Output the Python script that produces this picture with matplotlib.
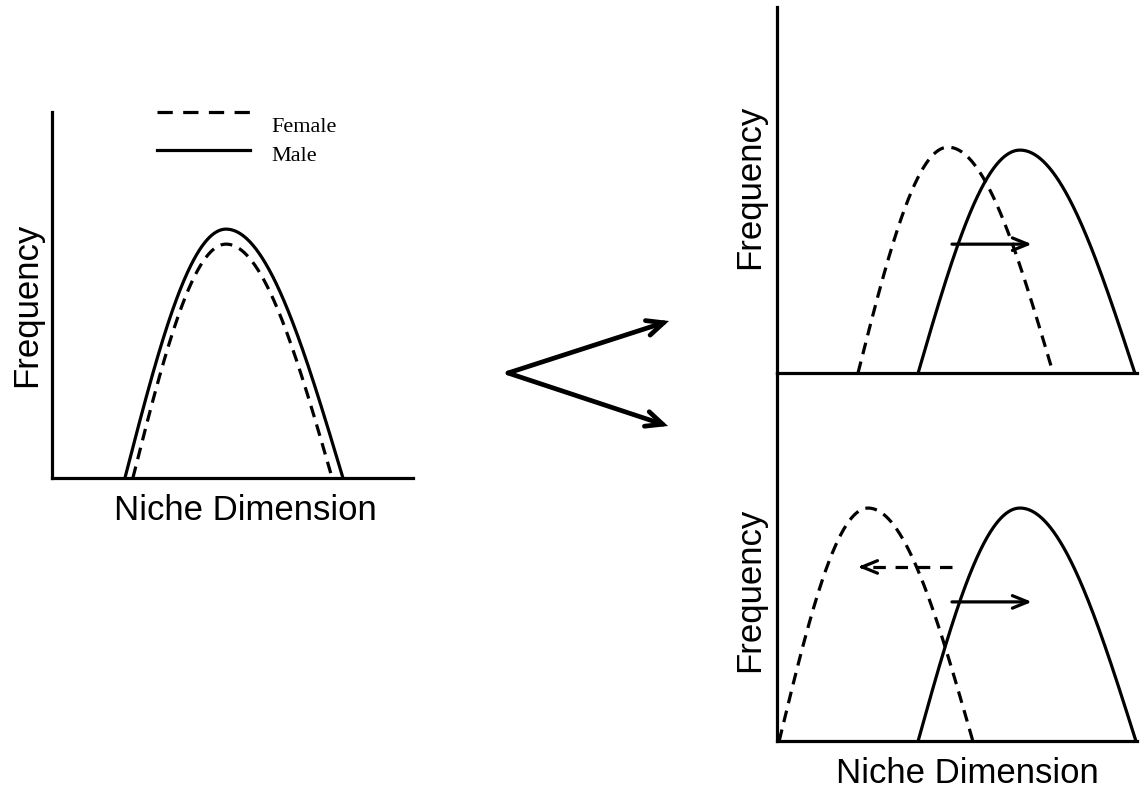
import numpy as np
import matplotlib
matplotlib.use("Agg")
import matplotlib.pyplot as plt

plt.rcParams['lines.scale_dashes'] = False

# ---- data (niche units 0-100, frequency units 0-100) ----
panel_names = ["before", "male_shift", "both_shift"]
female_start = [22.4, 22.5, 0.6]
female_peak = [48.2, 47.5, 25.3]
female_end = [77.6, 76.7, 54.4]
female_height = [63.9, 61.7, 63.3]
male_start = [20.2, 39.2, 39.2]
male_peak = [48.2, 67.5, 67.5]
male_end = [80.6, 99.4, 99.7]
male_height = [68.0, 60.9, 63.3]

# shift arrows per panel: (from_x, to_x, y)
male_arrows = [None, (48.6, 70.8, 35.2), (48.6, 70.8, 37.8)]
female_arrows = [None, None, (48.6, 22.5, 47.3)]

legend_labels = ["Female", "Male"]
x_label = "Niche Dimension"
y_label = "Frequency"

# branching arrows (figure pixel space)
branch_origin = (508, 373)
branch_tips = [(669, 321), (668, 426)]

# ---- layout ----
W, H = 1141, 797
fig = plt.figure(figsize=(W / 100, H / 100), dpi=100)

def px_axes(x0, y0, x1, y1):
    return fig.add_axes([x0 / W, 1 - y1 / H, (x1 - x0) / W, (y1 - y0) / H])

axes = [px_axes(52, 112, 413, 478), px_axes(777, 7, 1137, 373), px_axes(777, 373, 1137, 741)]

LW = 2.3
CURVE_DASH = (0, (8.5, 5.5))

def hump(s, p, e, h, n=300):
    xl = np.linspace(s, p, n)
    yl = h * np.cos(np.pi / 2 * (p - xl) / (p - s))
    xr = np.linspace(p, e, n)
    yr = h * np.cos(np.pi / 2 * (xr - p) / (e - p))
    return np.concatenate([xl, xr]), np.clip(np.concatenate([yl, yr]), 0, None)

for i, ax in enumerate(axes):
    ax.set_xlim(0, 100)
    ax.set_ylim(0, 100)
    ax.patch.set_alpha(0)
    for side in ("top", "right"):
        ax.spines[side].set_visible(False)
    for side in ("left", "bottom"):
        ax.spines[side].set_linewidth(LW)
        ax.spines[side].set_color("black")
    ax.set_xticks([])
    ax.set_yticks([])

    fx, fy = hump(female_start[i], female_peak[i], female_end[i], female_height[i])
    mx, my = hump(male_start[i], male_peak[i], male_end[i], male_height[i])
    ax.plot(fx, fy, color="black", lw=LW, linestyle=CURVE_DASH, clip_on=False)
    ax.plot(mx, my, color="black", lw=LW, clip_on=False)

    if male_arrows[i] is not None:
        x0, x1, y = male_arrows[i]
        ax.annotate("", xy=(x1, y), xytext=(x0, y),
                    arrowprops=dict(arrowstyle="->,head_length=1.1,head_width=0.45",
                                    lw=LW, color="black", shrinkA=0, shrinkB=0))
    if female_arrows[i] is not None:
        x0, x1, y = female_arrows[i]
        ax.plot([x0, x1 + 1.0], [y, y], color="black", lw=LW, linestyle=(0, (9, 7)))
        ax.annotate("", xy=(x1, y), xytext=(x1 + 2.0, y),
                    arrowprops=dict(arrowstyle="->,head_length=1.1,head_width=0.45",
                                    lw=LW, color="black", shrinkA=0, shrinkB=0))

lab_kw = dict(fontsize=25, family="Liberation Sans", color="black", ha="center", va="center")

# left panel labels
axes[0].text(-0.069, 0.473, y_label, rotation=90, transform=axes[0].transAxes, **lab_kw)
axes[0].text(0.535, -0.090, x_label, transform=axes[0].transAxes, **lab_kw)
# right panels labels
axes[1].text(-0.075, 0.508, y_label, rotation=90, transform=axes[1].transAxes, **lab_kw)
axes[2].text(-0.075, 0.41, y_label, rotation=90, transform=axes[2].transAxes, **lab_kw)
axes[2].text(0.53, -0.087, x_label, transform=axes[2].transAxes, **lab_kw)

# legend (manual, in left axes fraction)
ax0 = axes[0]
ax0.plot([0.291, 0.548], [1.0, 1.0], transform=ax0.transAxes, color="black", lw=LW,
         linestyle=(0, (11, 7.5)), clip_on=False)
ax0.plot([0.291, 0.548], [0.896, 0.896], transform=ax0.transAxes, color="black", lw=LW,
         clip_on=False)
ax0.text(0.609, 0.957, legend_labels[0], transform=ax0.transAxes, fontsize=16,
         family="Liberation Serif", ha="left", va="center")
ax0.text(0.609, 0.878, legend_labels[1], transform=ax0.transAxes, fontsize=16,
         family="Liberation Serif", ha="left", va="center")

# overlay axes for the branching arrows
ov = fig.add_axes([0, 0, 1, 1])
ov.set_xlim(0, W)
ov.set_ylim(H, 0)
ov.axis("off")
ov.patch.set_alpha(0)
for tip in branch_tips:
    ov.annotate("", xy=tip, xytext=branch_origin,
                arrowprops=dict(arrowstyle="->,head_length=1.2,head_width=0.55",
                                lw=3.4, color="black", shrinkA=0, shrinkB=0,
                                joinstyle="miter"))

fig.savefig("out.png", dpi=100)
